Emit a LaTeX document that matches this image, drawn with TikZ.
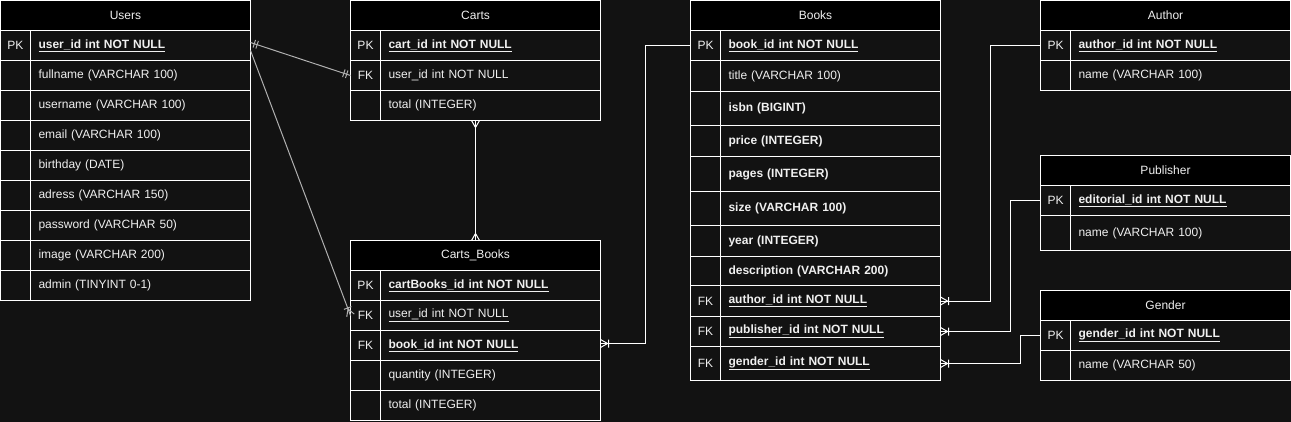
\documentclass[tikz,border=0pt]{standalone}
\usepackage{fontspec}
\setmainfont{Liberation Sans}
\usepackage{xcolor}
\usepackage{tikz}
\usetikzlibrary{positioning, decorations.markings}

\definecolor{bgdark}{HTML}{121212}
\definecolor{celltext}{HTML}{F0F0F0}
\definecolor{relgray}{HTML}{B0B0B0}

\tikzset{
  tabhead/.style={draw=white, fill=black, text=celltext, line width=1pt, minimum width=250pt, minimum height=30pt, inner sep=0pt, outer sep=0pt, anchor=north west},
  keycell/.style={draw=white, fill=bgdark, text=celltext, line width=1pt, minimum width=30pt, minimum height=#1, inner sep=0pt, outer sep=0pt},
  keycell/.default=30pt,
  fieldcell/.style={draw=white, fill=bgdark, text=celltext, line width=1pt, text width=204pt, align=left, inner xsep=8pt, inner ysep=0pt, minimum height=#1, outer sep=0pt},
  fieldcell/.default=30pt,
  rel/.style={color=white, line width=1pt},
  dimrel/.style={color=relgray},
  twobars/.style={postaction={decorate, decoration={markings,
      mark=at position 4pt with {\draw (0pt,-4pt) -- (0pt,4pt);},
      mark=at position 7pt with {\draw (0pt,-4pt) -- (0pt,4pt);},
      mark=at position -4pt with {\draw (0pt,-4pt) -- (0pt,4pt);},
      mark=at position -7pt with {\draw (0pt,-4pt) -- (0pt,4pt);}}}},
  onemany/.style={postaction={decorate, decoration={markings,
      mark=at position -0.01pt with {\draw (-7pt,0pt) -- (0pt,4pt) (-7pt,0pt) -- (0pt,-4pt) (-8pt,-4pt) -- (-8pt,4pt);}}}},
  manyboth/.style={postaction={decorate, decoration={markings,
      mark=at position 0.01pt with {\draw (7pt,0pt) -- (0pt,4pt) (7pt,0pt) -- (0pt,-4pt);},
      mark=at position -0.01pt with {\draw (-7pt,0pt) -- (0pt,4pt) (-7pt,0pt) -- (0pt,-4pt);}}}}
}

\begin{document}
\begin{tikzpicture}[x=1pt, y=-1pt, font=\fontsize{12}{14}\selectfont]
  \fill[bgdark] (0,0) rectangle (1291,422);
  \useasboundingbox (0,0) rectangle (1291,422);

  % Users
  \node[tabhead] (users) at (0.5,0.5) {Users};
  \node[keycell, below right=0pt and 0pt of users.south west] (u1k) {PK};
  \node[fieldcell, right=0pt of u1k] (u1) {\textbf{\underline{user\_id int NOT NULL}}};
  \node[keycell, below=0pt of u1k] (u2k) {};
  \node[fieldcell, right=0pt of u2k] (u2) {fullname (VARCHAR 100)};
  \node[keycell, below=0pt of u2k] (u3k) {};
  \node[fieldcell, right=0pt of u3k] (u3) {username (VARCHAR 100)};
  \node[keycell, below=0pt of u3k] (u4k) {};
  \node[fieldcell, right=0pt of u4k] (u4) {email (VARCHAR 100)};
  \node[keycell, below=0pt of u4k] (u5k) {};
  \node[fieldcell, right=0pt of u5k] (u5) {birthday (DATE)};
  \node[keycell, below=0pt of u5k] (u6k) {};
  \node[fieldcell, right=0pt of u6k] (u6) {adress (VARCHAR 150)};
  \node[keycell, below=0pt of u6k] (u7k) {};
  \node[fieldcell, right=0pt of u7k] (u7) {password (VARCHAR 50)};
  \node[keycell, below=0pt of u7k] (u8k) {};
  \node[fieldcell, right=0pt of u8k] (u8) {image (VARCHAR 200)};
  \node[keycell, below=0pt of u8k] (u9k) {};
  \node[fieldcell, right=0pt of u9k] (u9) {admin (TINYINT 0-1)};

  % Carts
  \node[tabhead] (carts) at (350.5,0.5) {Carts};
  \node[keycell, below right=0pt and 0pt of carts.south west] (c1k) {PK};
  \node[fieldcell, right=0pt of c1k] (c1) {\textbf{\underline{cart\_id int NOT NULL}}};
  \node[keycell, below=0pt of c1k] (c2k) {FK};
  \node[fieldcell, right=0pt of c2k] (c2) {user\_id int NOT NULL};
  \node[keycell, below=0pt of c2k] (c3k) {};
  \node[fieldcell, right=0pt of c3k] (c3) {total (INTEGER)};

  % Carts_Books
  \node[tabhead] (cartsbooks) at (350.5,240.5) {Carts\_Books};
  \node[keycell, below right=0pt and 0pt of cartsbooks.south west] (cb1k) {PK};
  \node[fieldcell, right=0pt of cb1k] (cb1) {\textbf{\underline{cartBooks\_id int NOT NULL}}};
  \node[keycell, below=0pt of cb1k] (cb2k) {FK};
  \node[fieldcell, right=0pt of cb2k] (cb2) {\underline{user\_id int NOT NULL}};
  \node[keycell, below=0pt of cb2k] (cb3k) {FK};
  \node[fieldcell, right=0pt of cb3k] (cb3) {\textbf{\underline{book\_id int NOT NULL}}};
  \node[keycell, below=0pt of cb3k] (cb4k) {};
  \node[fieldcell, right=0pt of cb4k] (cb4) {quantity (INTEGER)};
  \node[keycell, below=0pt of cb4k] (cb5k) {};
  \node[fieldcell, right=0pt of cb5k] (cb5) {total (INTEGER)};

  % Books
  \node[tabhead] (books) at (690.5,0.5) {Books};
  \node[keycell, below right=0pt and 0pt of books.south west] (b1k) {PK};
  \node[fieldcell, right=0pt of b1k] (b1) {\textbf{\underline{book\_id int NOT NULL}}};
  \node[keycell=31pt, below=0pt of b1k] (b2k) {};
  \node[fieldcell=31pt, right=0pt of b2k] (b2) {title (VARCHAR 100)};
  \node[keycell=34pt, below=0pt of b2k] (b3k) {};
  \node[fieldcell=34pt, right=0pt of b3k] (b3) {\textbf{isbn (BIGINT)}};
  \node[keycell=31pt, below=0pt of b3k] (b4k) {};
  \node[fieldcell=31pt, right=0pt of b4k] (b4) {\textbf{price (INTEGER)}};
  \node[keycell=35pt, below=0pt of b4k] (b5k) {};
  \node[fieldcell=35pt, right=0pt of b5k] (b5) {\textbf{pages (INTEGER)}};
  \node[keycell=34pt, below=0pt of b5k] (b6k) {};
  \node[fieldcell=34pt, right=0pt of b6k] (b6) {\textbf{size (VARCHAR 100)}};
  \node[keycell=31pt, below=0pt of b6k] (b7k) {};
  \node[fieldcell=31pt, right=0pt of b7k] (b7) {\textbf{year (INTEGER)}};
  \node[keycell=29pt, below=0pt of b7k] (b8k) {};
  \node[fieldcell=29pt, right=0pt of b8k] (b8) {\textbf{description (VARCHAR 200)}};
  \node[keycell=31pt, below=0pt of b8k] (b9k) {FK};
  \node[fieldcell=31pt, right=0pt of b9k] (b9) {\textbf{\underline{author\_id int NOT NULL}}};
  \node[keycell, below=0pt of b9k] (b10k) {FK};
  \node[fieldcell, right=0pt of b10k] (b10) {\textbf{\underline{publisher\_id int NOT NULL}}};
  \node[keycell=34pt, below=0pt of b10k] (b11k) {FK};
  \node[fieldcell=34pt, right=0pt of b11k] (b11) {\textbf{\underline{gender\_id int NOT NULL}}};

  % Author, Publisher, Gender
  \node[tabhead] (author) at (1040.5,0.5) {Author};
  \node[keycell, below right=0pt and 0pt of author.south west] (a1k) {PK};
  \node[fieldcell, right=0pt of a1k] (a1) {\textbf{\underline{author\_id int NOT NULL}}};
  \node[keycell, below=0pt of a1k] (a2k) {};
  \node[fieldcell, right=0pt of a2k] (a2) {name (VARCHAR 100)};

  \node[tabhead] (publisher) at (1040.5,155.5) {Publisher};
  \node[keycell, below right=0pt and 0pt of publisher.south west] (p1k) {PK};
  \node[fieldcell, right=0pt of p1k] (p1) {\textbf{\underline{editorial\_id int NOT NULL}}};
  \node[keycell=35pt, below=0pt of p1k] (p2k) {};
  \node[fieldcell=35pt, right=0pt of p2k] (p2) {name (VARCHAR 100)};

  \node[tabhead] (gender) at (1040.5,290.5) {Gender};
  \node[keycell, below right=0pt and 0pt of gender.south west] (g1k) {PK};
  \node[fieldcell, right=0pt of g1k] (g1) {\textbf{\underline{gender\_id int NOT NULL}}};
  \node[keycell, below=0pt of g1k] (g2k) {};
  \node[fieldcell, right=0pt of g2k] (g2) {name (VARCHAR 50)};

  % relations
  \draw[rel, dimrel, twobars] ([yshift=3pt]u1.east) -- (c2k.west);
  \draw[rel, dimrel, onemany] ([yshift=-5pt]u1.east) -- (cb2k.west);
  \draw[rel, manyboth] (carts.south |- c3.south) -- (cartsbooks.north);
  \draw[rel, onemany] (b1k.west) -- ++(-45,0) |- ([yshift=2pt]cb3.east);
  \draw[rel, onemany] (a1k.west) -- ++(-50,0) |- (b9.east);
  \draw[rel, onemany] (p1k.west) -- ++(-30,0) |- (b10.east);
  \draw[rel, onemany] (g1k.west) -- ++(-20,0) |- (b11.east);
\end{tikzpicture}
\end{document}
